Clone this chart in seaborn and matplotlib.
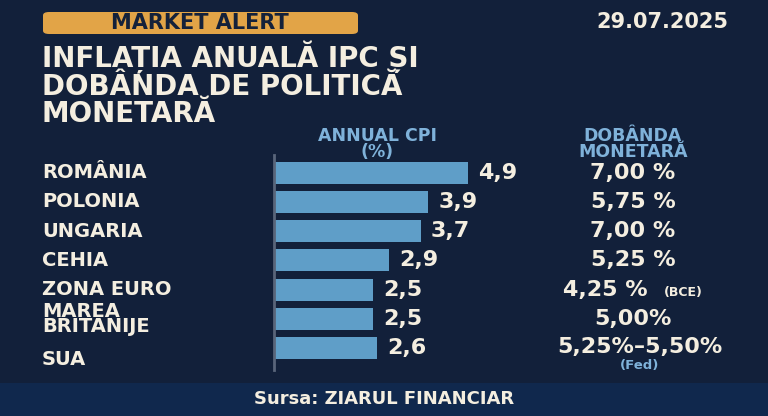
import numpy as np
import pandas as pd
import seaborn as sns
import matplotlib.pyplot as plt
from matplotlib.patches import FancyBboxPatch, Rectangle
from matplotlib.transforms import blended_transform_factory

countries = ["ROMÂNIA", "POLONIA", "UNGARIA", "CEHIA", "ZONA EURO", "MAREA\nBRITANIJE", "SUA"]
cpi = [4.9, 3.9, 3.7, 2.9, 2.5, 2.5, 2.6]
cpi_labels = ["4,9", "3,9", "3,7", "2,9", "2,5", "2,5", "2,6"]
rates = ["7,00 %", "5,75 %", "7,00 %", "5,25 %", "4,25 %", "5,00%", "5,25%–5,50%"]
rate_notes = ["", "", "", "", "(BCE)", "", "(Fed)"]

df = pd.DataFrame({"country": countries, "cpi": cpi})

bg = "#12203a"
cream = "#f4eee0"
lblue = "#7fb2da"
barc = "#5f9ec8"

sns.set_style("white")
plt.rcParams["font.family"] = ["DejaVu Sans"]
plt.rcParams["font.weight"] = "bold"

fig = plt.figure(figsize=(7.68, 4.16), dpi=100, facecolor=bg)
W, H = 768, 416

def fx(px):
    return px / W

def fy(py):
    return 1 - py / H

# footer band
fig.patches.append(Rectangle((0, 0), 1, fy(383), transform=fig.transFigure,
                             facecolor="#10284d", edgecolor="none", zorder=0))
fig.text(0.5, fy(399), "Sursa: ZIARUL FINANCIAR", ha="center", va="center",
         color=cream, fontsize=13, fontweight="bold")

# badge + date
fig.patches.append(FancyBboxPatch((fx(43), fy(34)), fx(358) - fx(43), fy(12) - fy(34),
                                  boxstyle="round,pad=0,rounding_size=0.008",
                                  transform=fig.transFigure, facecolor="#e2a447",
                                  edgecolor="none", zorder=1))
fig.text(fx(200), fy(23), "MARKET ALERT", ha="center", va="center",
         color="#14213a", fontsize=15, fontweight="bold")
fig.text(fx(728), fy(22), "29.07.2025", ha="right", va="center",
         color=cream, fontsize=15, fontweight="bold")

# title
fig.text(fx(42), fy(41), "INFLAȚIA ANUALĂ IPC ȘI\nDOBÂNDA DE POLITICĂ\nMONETARĂ",
         ha="left", va="top", color=cream, fontsize=20, fontweight="bold",
         linespacing=0.95)

# column headers
fig.text(fx(377), fy(144), "ANNUAL CPI\n(%)", ha="center", va="center",
         color=lblue, fontsize=12.5, fontweight="bold", linespacing=0.8)
fig.text(fx(633), fy(144), "DOBÂNDA\nMONETARĂ", ha="center", va="center",
         color=lblue, fontsize=12.5, fontweight="bold", linespacing=0.8)

# bars
ax = fig.add_axes([fx(274), fy(370), fx(768) - fx(274), (370 - 155) / H])
ax.set_facecolor("none")
sns.barplot(data=df, x="cpi", y="country", orient="h", color=barc,
            width=0.75, saturation=1, linewidth=0, edgecolor="none", ax=ax)
ax.set_xlim(0, 12.47)
ax.set_ylim(6.75, -0.6)
ax.set_xlabel("")
ax.set_ylabel("")
ax.set_xticks([])
ax.set_yticks([])
for s in ["top", "right", "bottom"]:
    ax.spines[s].set_visible(False)
ax.spines["left"].set_color("#59657a")
ax.spines["left"].set_linewidth(2)

for i, (v, t) in enumerate(zip(cpi, cpi_labels)):
    ax.text(v + 0.25, i, t, ha="left", va="center", color=cream,
            fontsize=16, fontweight="bold")

tr = blended_transform_factory(fig.transFigure, ax.transData)
for i, name in enumerate(countries):
    yoff = 0.4 if name == "SUA" else 0
    ax.text(fx(42), i + yoff, name, transform=tr, ha="left", va="center",
            color=cream, fontsize=14, fontweight="bold", linespacing=0.75)

for i, (r, n) in enumerate(zip(rates, rate_notes)):
    if n == "(BCE)":
        ax.text(fx(605), i, r, transform=tr, ha="center", va="center",
                color=cream, fontsize=16, fontweight="bold")
        ax.text(fx(664), i + 0.1, n, transform=tr, ha="left", va="center",
                color=cream, fontsize=9, fontweight="bold")
    elif n == "(Fed)":
        ax.text(fx(640), i - 0.05, r, transform=tr, ha="center", va="center",
                color=cream, fontsize=16, fontweight="bold")
        ax.text(fx(640), i + 0.6, n, transform=tr, ha="center", va="center",
                color=lblue, fontsize=9.5, fontweight="bold")
    else:
        ax.text(fx(633), i, r, transform=tr, ha="center", va="center",
                color=cream, fontsize=16, fontweight="bold")

fig.savefig("out.png", dpi=100, facecolor=bg)
